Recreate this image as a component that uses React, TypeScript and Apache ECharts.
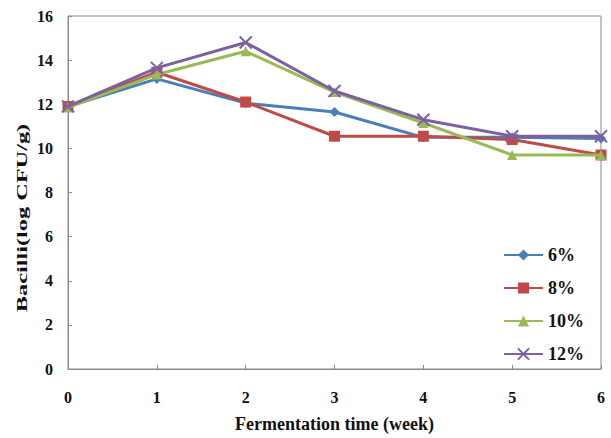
import React, { useEffect, useRef } from "react";
import * as echarts from "echarts";

const weeks = ["0", "1", "2", "3", "4", "5", "6"];
const seriesNames = ["6%", "8%", "10%", "12%"];
const s6 = [11.9, 13.15, 12.05, 11.65, 10.5, 10.5, 10.45];
const s8 = [11.9, 13.45, 12.1, 10.55, 10.55, 10.4, 9.7];
const s10 = [11.85, 13.35, 14.4, 12.55, 11.15, 9.7, 9.7];
const s12 = [11.9, 13.65, 14.8, 12.6, 11.3, 10.55, 10.55];
const yTicks = { min: 0, max: 16, interval: 2 };
const xTitle = "Fermentation time (week)";
const yTitle = "Bacilli(log CFU/g)";

const colors = ["#4a7ebb", "#be4b48", "#98b954", "#7d60a0"];
const symbols = [
  "diamond",
  "rect",
  "triangle",
  "path://M0 0L10 10M10 0L0 10",
];
const symbolSizes = [10, 11, 10, 12];

export default function App() {
  const ref = useRef<HTMLDivElement>(null);
  useEffect(() => {
    if (!ref.current) return;
    const chart = echarts.init(ref.current, undefined, { renderer: "svg" });
    const all = [s6, s8, s10, s12];
    const font = "'Liberation Serif', 'Times New Roman', serif";
    chart.setOption({
      animation: false,
      backgroundColor: "#ffffff",
      textStyle: { fontFamily: font },
      grid: {
        left: 68,
        right: 10,
        top: 16,
        bottom: 63,
        show: true,
        borderColor: "#8a8a8a",
        borderWidth: 1,
      },
      legend: {
        orient: "vertical",
        right: 22,
        top: 241,
        itemWidth: 39,
        itemHeight: 14,
        itemGap: 15,
        data: seriesNames,
        textStyle: {
          fontFamily: font,
          fontWeight: "bold",
          fontSize: 18,
          color: "#111",
        },
      },
      graphic: [
        {
          type: "text",
          x: 22,
          y: 218,
          rotation: Math.PI / 2,
          scaleX: 1.62,
          style: {
            text: yTitle,
            fontFamily: font,
            fontWeight: "bold",
            fontSize: 15,
            fill: "#111",
            align: "center",
            verticalAlign: "middle",
          },
        },
      ],
      xAxis: {
        type: "category",
        data: weeks,
        boundaryGap: false,
        name: xTitle,
        nameLocation: "middle",
        nameGap: 46,
        nameTextStyle: { fontFamily: font, fontWeight: "bold", fontSize: 18, color: "#111" },
        axisLine: { lineStyle: { color: "#8a8a8a", width: 1 } },
        axisTick: { inside: true, length: 4, alignWithLabel: true, lineStyle: { color: "#8a8a8a" } },
        axisLabel: { fontFamily: font, fontWeight: "bold", fontSize: 16, color: "#111", margin: 20 },
        splitLine: { show: false },
      },
      yAxis: {
        type: "value",
        min: yTicks.min,
        max: yTicks.max,
        interval: yTicks.interval,
        axisLine: { show: true, lineStyle: { color: "#8a8a8a", width: 1 } },
        axisTick: { show: true, inside: true, length: 4, lineStyle: { color: "#8a8a8a" } },
        axisLabel: { fontFamily: font, fontWeight: "bold", fontSize: 16, color: "#111", margin: 15 },
        splitLine: { show: false },
      },
      series: seriesNames.map((name, i) => ({
        name,
        type: "line",
        data: all[i],
        symbol: symbols[i],
        symbolSize: symbolSizes[i],
        showAllSymbol: true,
        lineStyle: { color: colors[i], width: 3 },
        itemStyle: {
          color: colors[i],
          borderColor: colors[i],
          borderWidth: i === 3 ? 2 : 0,
        },
        z: 2 + i,
      })),
    });
    return () => chart.dispose();
  }, []);
  return (
    <div
      ref={ref}
      style={{ position: "fixed", left: 0, top: 0, width: 611, height: 438 }}
    />
  );
}
